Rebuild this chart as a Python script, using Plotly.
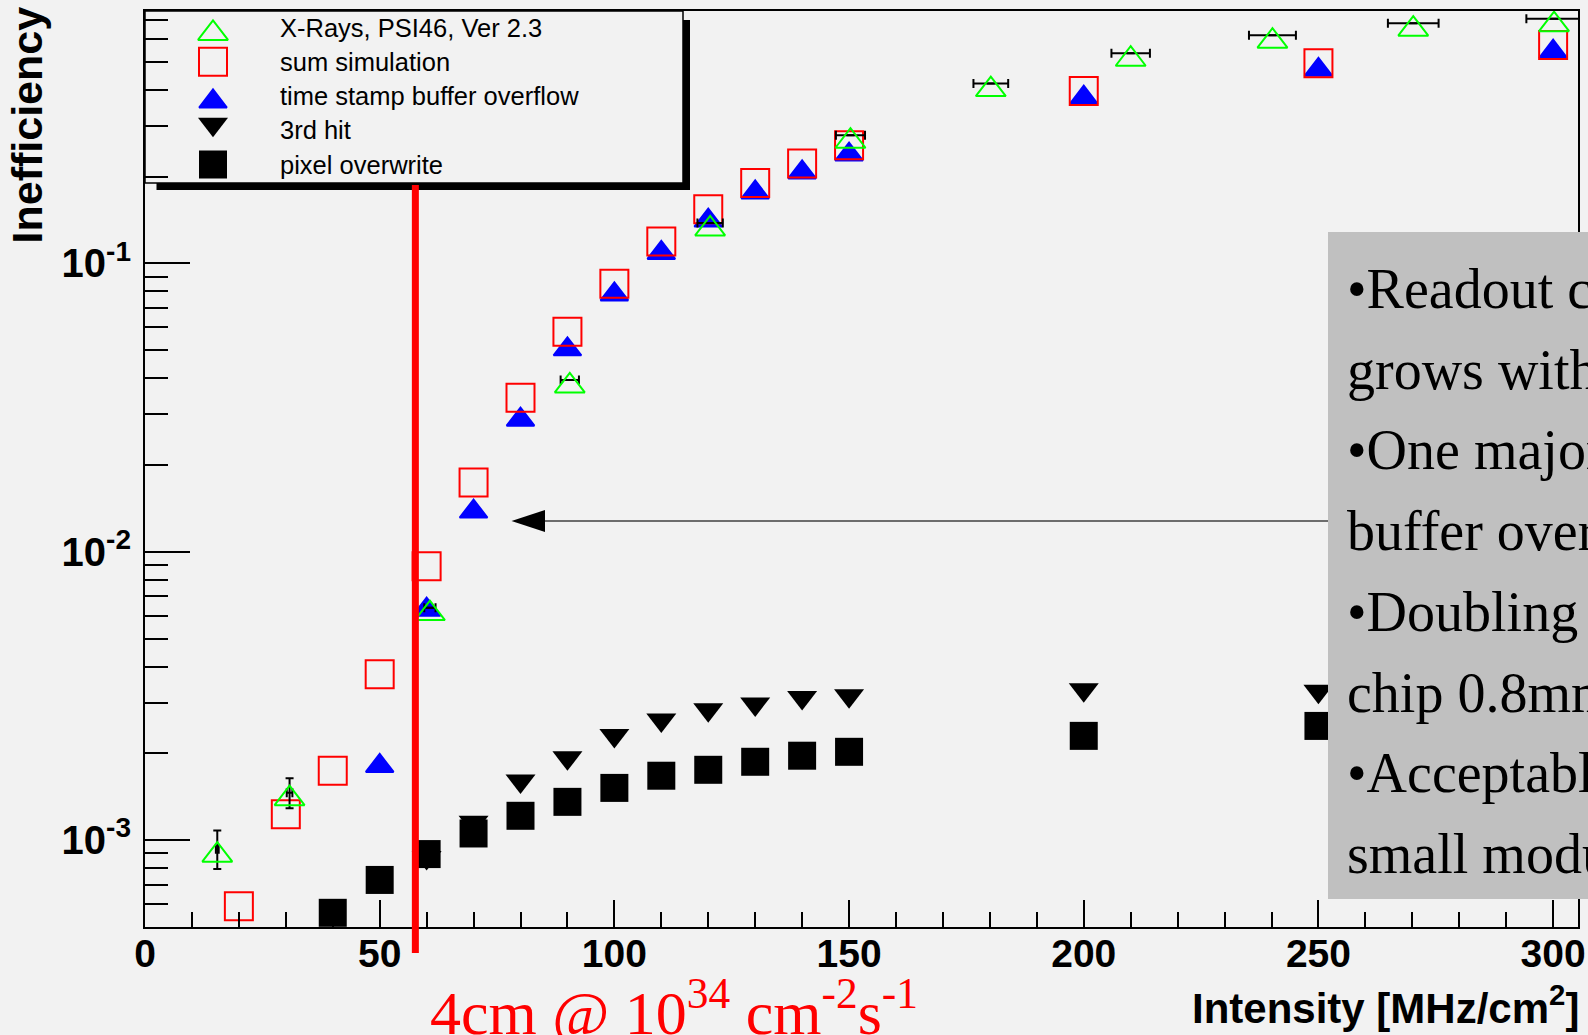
import math
import plotly.graph_objects as go

# ---------------- data ----------------
xray_x = [15.4, 30.8, 60.7, 90.5, 120.4, 150.3, 180.2, 210.0, 240.2, 270.2, 300.2]
xray_y = [9.3e-4, 1.46e-3, 6.4e-3, 0.0394, 0.138, 0.278, 0.420, 0.535, 0.618, 0.680, 0.705]
xray_ex = [0.3, 0.6, 1.2, 1.95, 2.7, 3.1, 3.7, 4.1, 5.0, 5.4, 5.9]
xray_ey_plus = [1.5e-4, 1.8e-4, 0, 0, 0, 0, 0, 0, 0, 0, 0]
xray_ey_minus = [1.35e-4, 1.7e-4, 0, 0, 0, 0, 0, 0, 0, 0, 0]

sum_x = [20, 30, 40, 50, 60, 70, 80, 90, 100, 110, 120, 130, 140, 150, 200, 250, 300]
sum_y = [5.9e-4, 1.23e-3, 1.74e-3, 3.76e-3, 8.9e-3, 0.0174, 0.0342, 0.0579, 0.085,
         0.119, 0.154, 0.190, 0.222, 0.257, 0.396, 0.494, 0.572]

tsb_x = [50, 60, 70, 80, 90, 100, 110, 120, 130, 140, 150, 200, 250, 300]
tsb_y = [1.89e-3, 6.58e-3, 0.0144, 0.030, 0.0526, 0.0815, 0.1136, 0.147, 0.184,
         0.216, 0.249, 0.392, 0.490, 0.566]

hit3_x = [60, 70, 80, 90, 100, 110, 120, 130, 140, 150, 200, 250]
hit3_y = [8.3e-4, 1.10e-3, 1.53e-3, 1.84e-3, 2.20e-3, 2.49e-3, 2.70e-3, 2.83e-3,
          2.98e-3, 3.02e-3, 3.17e-3, 3.13e-3]

pix_x = [40, 50, 60, 70, 80, 90, 100, 110, 120, 130, 140, 150, 200, 250]
pix_y = [5.6e-4, 7.28e-4, 8.95e-4, 1.055e-3, 1.215e-3, 1.358e-3, 1.518e-3, 1.673e-3,
         1.754e-3, 1.87e-3, 1.963e-3, 2.025e-3, 2.30e-3, 2.49e-3]

legend_names = ["X-Rays, PSI46, Ver 2.3", "sum simulation", "time stamp buffer overflow",
                "3rd hit", "pixel overwrite"]

x_range = [0, 305.3]
y_min, y_max = 5e-4, 0.75
y_major = [1e-3, 1e-2, 1e-1]
y_major_text = ["10<sup>-3</sup>", "10<sup>-2</sup>", "10<sup>-1</sup>"]
y_minor = [6e-4, 7e-4, 8e-4, 9e-4] + [k * 1e-3 for k in range(2, 10)] + \
          [k * 1e-2 for k in range(2, 10)] + [k * 1e-1 for k in range(2, 8)]

marker_line_x = 57.6  # 4cm @ 1e34 position
box_lines = ["\u2022Readout chip", "grows with", "\u2022One major", "buffer overflow",
             "\u2022Doubling", "chip 0.8mm", "\u2022Acceptable", "small modules"]

# ---------------- layout geometry ----------------
W, H = 1588, 1035
ML, MR, MT, MB = 145, 10, 11, 108
PW, PH = W - ML - MR, H - MT - MB


def px(xp):
    return (xp - ML) / PW


def py(yp):
    return (H - MB - yp) / PH


def xdata_to_paper(v):
    return (v - x_range[0]) / (x_range[1] - x_range[0])


# marker styles (ROOT-like: triangle bounding box centred on the point)
def tri_up(color, size, filled=True):
    return dict(symbol="triangle-up" if filled else "triangle-up-open", angle=0,
                standoff=0.2286 * size, size=size, color=color, line=dict(width=2, color=color))


def tri_down(color, size):
    return dict(symbol="triangle-up", angle=180, standoff=0.2286 * size, size=size,
                color=color, line=dict(width=0))


styles = [
    tri_up("#00ff00", 26, filled=False),
    dict(symbol="square-open", size=28, color="#ff0000", line=dict(width=2, color="#ff0000")),
    tri_up("#0000ff", 24),
    tri_down("black", 26),
    dict(symbol="square", size=28, color="black", line=dict(width=0)),
]

fig = go.Figure()

fig.add_trace(go.Scatter(x=hit3_x, y=hit3_y, mode="markers", marker=styles[3],
                         name=legend_names[3], showlegend=False, cliponaxis=False))
fig.add_trace(go.Scatter(x=pix_x, y=pix_y, mode="markers", marker=styles[4],
                         name=legend_names[4], showlegend=False, cliponaxis=False))
fig.add_trace(go.Scatter(x=tsb_x, y=tsb_y, mode="markers", marker=styles[2],
                         name=legend_names[2], showlegend=False, cliponaxis=False))
fig.add_trace(go.Scatter(x=sum_x, y=sum_y, mode="markers", marker=styles[1],
                         name=legend_names[1], showlegend=False, cliponaxis=False))
fig.add_trace(go.Scatter(
    x=xray_x, y=xray_y, mode="markers", marker=styles[0], name=legend_names[0],
    showlegend=False, cliponaxis=False,
    error_x=dict(type="data", array=xray_ex, color="black", thickness=2, width=4.5),
    error_y=dict(type="data", array=xray_ey_plus, arrayminus=xray_ey_minus,
                 color="black", thickness=2, width=4),
))

# ---- manual ROOT-style legend (overlay axes in pixel units) ----
leg_left, leg_top, leg_right, leg_bottom = 145, 11, 683, 183
leg_marker_x, leg_text_x = 213, 278
leg_row0, leg_step = 27.5, 34.25
leg_rows = [leg_row0 + i * leg_step for i in range(len(legend_names))]

for i, st in enumerate(styles):
    fig.add_trace(go.Scatter(x=[leg_marker_x], y=[leg_rows[i]], mode="markers", marker=st,
                             xaxis="x2", yaxis="y2", showlegend=False, cliponaxis=False,
                             hoverinfo="skip"))

shapes = []
# legend shadow and box
shapes.append(dict(type="rect", xref="paper", yref="paper", layer="below",
                   x0=px(156.5), x1=px(690), y0=py(190), y1=py(20),
                   fillcolor="black", line=dict(width=0)))
shapes.append(dict(type="rect", xref="paper", yref="paper", layer="below",
                   x0=px(leg_left), x1=px(leg_right), y0=py(leg_bottom), y1=py(leg_top),
                   fillcolor="#f2f2f2", line=dict(color="black", width=1.5)))
# red vertical line
xl = xdata_to_paper(marker_line_x)
shapes.append(dict(type="line", xref="paper", yref="paper", layer="above",
                   x0=xl, x1=xl, y0=py(953), y1=py(185),
                   line=dict(color="#ff0000", width=7)))
# grey text box
shapes.append(dict(type="rect", xref="paper", yref="paper", layer="above",
                   x0=px(1328), x1=px(1600), y0=py(899), y1=py(232),
                   fillcolor="#c0c0c0", line=dict(width=0)))
# arrow
arrow_y = 521
shapes.append(dict(type="line", xref="paper", yref="paper", layer="above",
                   x0=px(545), x1=px(1328), y0=py(arrow_y), y1=py(arrow_y),
                   line=dict(color="#404040", width=1.5)))
shapes.append(dict(type="path", xref="paper", yref="paper", layer="above",
                   path="M {} {} L {} {} L {} {} Z".format(px(511.5), py(arrow_y), px(545),
                                                           py(arrow_y - 11), px(545), py(arrow_y + 11)),
                   fillcolor="black", line=dict(width=0)))

annotations = []
for i, name in enumerate(legend_names):
    annotations.append(dict(x=px(leg_text_x), y=py(leg_rows[i]), xref="paper", yref="paper",
                            text=name, showarrow=False, xanchor="left", yanchor="middle",
                            font=dict(family="Liberation Sans", size=25.5, color="black")))

box_line0, box_step = 289, 80.7
for i, line in enumerate(box_lines):
    annotations.append(dict(x=px(1345), y=py(box_line0 + i * box_step), xref="paper", yref="paper",
                            text=line, showarrow=False, xanchor="left", yanchor="middle",
                            font=dict(family="Liberation Serif", size=56, color="black")))

annotations.append(dict(x=px(428), y=py(1008), xref="paper", yref="paper",
                        text="4cm @ 10<sup>34</sup> cm<sup>-2</sup>s<sup>-1</sup>",
                        showarrow=False, xanchor="left", yanchor="middle",
                        font=dict(family="Liberation Serif", size=62, color="#ff0000")))
annotations.append(dict(x=px(1581), y=py(1005), xref="paper", yref="paper",
                        text="Intensity [MHz/cm<sup>2</sup>]", showarrow=False,
                        xanchor="right", yanchor="middle",
                        font=dict(family="Liberation Sans", size=42, color="black", weight="bold")))
annotations.append(dict(x=px(27), y=py(5), xref="paper", yref="paper", text="Inefficiency",
                        showarrow=False, textangle=-90, xanchor="center", yanchor="top",
                        font=dict(family="Liberation Sans", size=43, color="black", weight="bold")))

fig.update_layout(
    width=W, height=H, autosize=False,
    margin=dict(l=ML, r=MR, t=MT, b=MB, pad=0, autoexpand=False),
    paper_bgcolor="#f2f2f2", plot_bgcolor="#f2f2f2",
    showlegend=False,
    xaxis=dict(range=x_range, showgrid=False, zeroline=False, showline=True, linecolor="black",
               linewidth=2, mirror=True, ticks="inside", ticklen=27, tickwidth=2, tickcolor="black",
               tick0=0, dtick=50, ticklabelstandoff=-9, automargin=False,
               tickfont=dict(family="Liberation Sans", size=39, color="black", weight="bold"),
               minor=dict(ticks="inside", ticklen=15, tickwidth=2, tickcolor="black", dtick=10,
                          tick0=0, showgrid=False)),
    yaxis=dict(type="log", range=[math.log10(y_min), math.log10(y_max)], showgrid=False,
               zeroline=False, showline=True, linecolor="black", linewidth=2, mirror=True,
               ticks="inside", ticklen=45, tickwidth=2, tickcolor="black", automargin=False,
               tickmode="array", tickvals=y_major, ticktext=y_major_text, ticklabelstandoff=4,
               tickfont=dict(family="Liberation Sans", size=40, color="black", weight="bold"),
               minor=dict(ticks="inside", ticklen=23, tickwidth=2, tickcolor="black",
                          tickmode="array", tickvals=y_minor, showgrid=False)),
    xaxis2=dict(overlaying="x", range=[ML, W - MR], visible=False, fixedrange=True,
                automargin=False),
    yaxis2=dict(overlaying="y", range=[H - MB, MT], visible=False, fixedrange=True,
                automargin=False),
    shapes=shapes,
    annotations=annotations,
)

fig.write_html("out.html", config={"displayModeBar": False},
               post_script="document.body.style.margin='0';document.body.style.padding='0';")
